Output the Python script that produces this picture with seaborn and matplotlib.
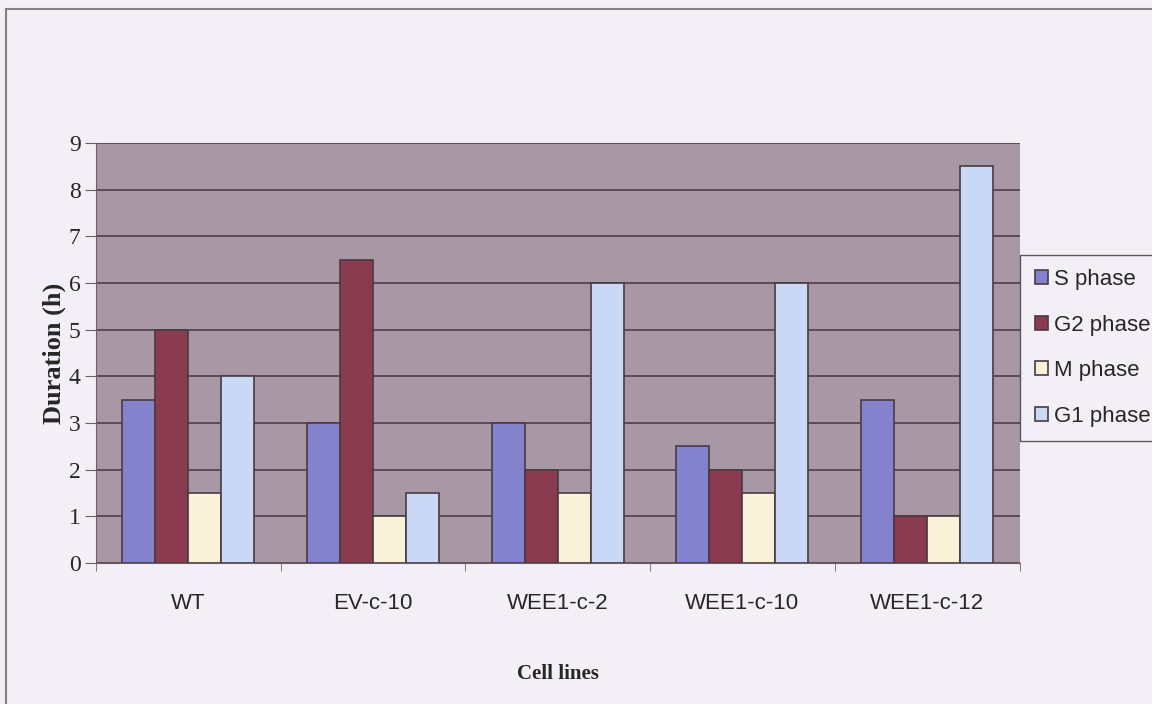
import pandas as pd
import numpy as np
import matplotlib.pyplot as plt
import seaborn as sns
from matplotlib.patches import Rectangle

cell_lines = ['WT', 'EV-c-10', 'WEE1-c-2', 'WEE1-c-10', 'WEE1-c-12']
phases = ['S phase', 'G2 phase', 'M phase', 'G1 phase']
s_phase = [3.5, 3, 3, 2.5, 3.5]
g2_phase = [5, 6.5, 2, 2, 1]
m_phase = [1.5, 1, 1.5, 1.5, 1]
g1_phase = [4, 1.5, 6, 6, 8.5]

df = pd.DataFrame({
    'Cell lines': cell_lines * 4,
    'Phase': [p for p in phases for _ in cell_lines],
    'Duration': s_phase + g2_phase + m_phase + g1_phase,
})

colors = ['#8482CC', '#8A3B50', '#F7F2D8', '#C9D8F4']

sns.set_style('white')
fig = plt.figure(figsize=(11.52, 7.04), dpi=100)
fig.patch.set_facecolor('#F2F0F6')
ax = fig.add_axes([0.0833, 0.2003, 0.8017, 0.5967])
ax.set_facecolor('#A898A6')

sns.barplot(data=df, x='Cell lines', y='Duration', hue='Phase', palette=colors,
            width=0.715, edgecolor='#4A3A40', linewidth=1.2, saturation=1, ax=ax, zorder=3)

ax.set_ylim(0, 9)
ax.set_xlim(-0.5, 4.5)
ax.set_yticks(range(0, 10))
ax.yaxis.grid(True, color='#4E3F4A', linewidth=1.2, zorder=0)
ax.set_axisbelow(True)
for s in ['top', 'right']:
    ax.spines[s].set_visible(False)
ax.spines['left'].set_color('#6A6068')
ax.spines['bottom'].set_color('#6A6068')

ax.tick_params(axis='y', left=True, length=8, color='#6A6068', labelsize=17, pad=3)
for t in ax.get_yticklabels():
    t.set_family('Liberation Serif')
ax.set_xticks(np.arange(-0.5, 5, 1), minor=True)
ax.tick_params(axis='x', which='minor', bottom=True, length=6, color='#6A6068')
ax.tick_params(axis='x', which='major', bottom=False, labelsize=16, pad=18)
for t in ax.get_xticklabels():
    t.set_family('Liberation Sans')

ax.set_ylabel('Duration (h)', family='Liberation Serif', fontweight='bold', fontsize=19, labelpad=2)
ax.set_xlabel('Cell lines', family='Liberation Serif', fontweight='bold', fontsize=15, labelpad=36)

leg = ax.legend(loc='center left', bbox_to_anchor=(1.001, 0.512), frameon=True,
                prop={'family': 'Liberation Sans', 'size': 16}, handlelength=0.6,
                handleheight=0.6, handletextpad=0.25, labelspacing=1.1,
                borderpad=0.65, borderaxespad=0.0, fancybox=False, title=None)
leg.get_frame().set_edgecolor('#333333')
leg.get_frame().set_facecolor('#F2F0F6')

fig.patches.append(Rectangle((0.005, -0.01), 1.1, 0.997, transform=fig.transFigure,
                             fill=False, edgecolor='#808080', linewidth=1.5))

fig.savefig('out.png', dpi=100, facecolor=fig.get_facecolor())
